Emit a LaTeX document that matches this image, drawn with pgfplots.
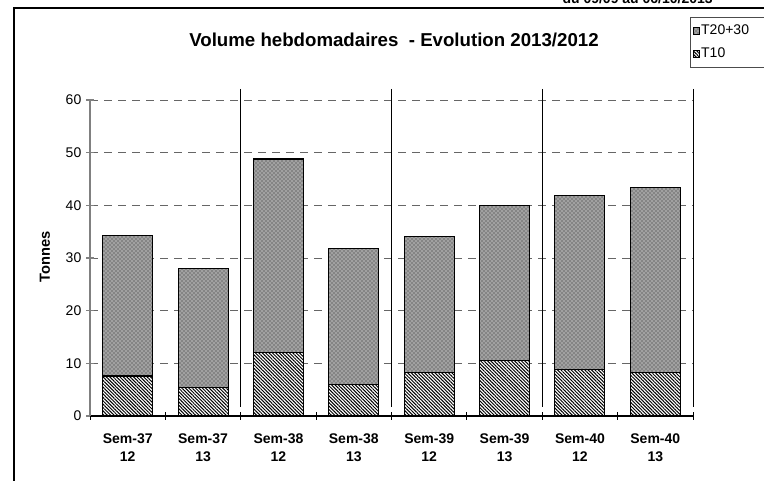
\documentclass[border=0pt]{standalone}
\usepackage{fontspec}
\setmainfont{Liberation Sans}
\usepackage{pgfplots}
\pgfplotsset{compat=1.18}
\usetikzlibrary{patterns,patterns.meta}
\begin{document}
\begin{tikzpicture}[x=0.75pt,y=0.75pt]
\useasboundingbox (0,0) rectangle (764,481);
\clip (0,0) rectangle (764,481);
\draw[line width=1.1pt] (14,-5) -- (14,473) -- (790,473);
\node[anchor=base east, font=\bfseries\fontsize{10.5}{12}\selectfont, inner sep=0pt] at (713,477) {du 09/09 au 06/10/2013};
\node[font=\bfseries\fontsize{14}{16}\selectfont] at (394,441) {Volume hebdomadaires\ \ - Evolution 2013/2012};
\node[rotate=90, font=\bfseries\fontsize{11}{13}\selectfont] at (45,224) {Tonnes};
\begin{axis}[
  at={(67.5pt,48.75pt)}, anchor=south west, scale only axis,
  width=452.25pt, height=237pt,
  xmin=0, xmax=8, ymin=0, ymax=60,
  clip=false,
  ybar stacked, bar width=37.5pt,
  axis x line=bottom, axis y line=left,
  axis line style={-},
  x axis line style={black, line width=0.8pt},
  y axis line style={black!50, line width=1.3pt},
  xtick={0.5,1.5,...,7.5},
  xticklabels={{Sem-37\\12},{Sem-37\\13},{Sem-38\\12},{Sem-38\\13},{Sem-39\\12},{Sem-39\\13},{Sem-40\\12},{Sem-40\\13}},
  xticklabel style={align=center, yshift=-6.5pt, font=\bfseries\fontsize{10.5}{13.5}\selectfont},
  major x tick style={draw=none},
  minor xtick={0,1,...,8},
  minor x tick style={black, line width=0.6pt},
  ytick={0,10,...,60},
  y tick style={black!50, line width=0.8pt},
  tick align=center,
  major tick length=6pt, minor tick length=6pt,
  ymajorgrids,
  grid style={black!60, dash pattern=on 6pt off 4.5pt, line width=0.6pt},
  yticklabel style={font=\fontsize{10.5}{12}\selectfont},
  /pgf/number format/assume math mode=true,
  reverse legend,
  legend cell align=left,
  legend image code/.code={\draw[#1, line width=0.3pt] (0pt,-2.8pt) rectangle (4.8pt,2.8pt);},
  legend style={at={(axis description cs:0.995,1.262)}, anchor=north west,
    draw=black!70, line width=0.6pt, fill=white,
    font=\fontsize{10.5}{12}\selectfont,
    inner xsep=2pt, inner ysep=3.5pt, row sep=4.5pt,
    nodes={inner xsep=1pt}},
]
\addplot[draw=black, line width=0.8pt, fill=white, postaction={pattern={Lines[angle=-45, distance=1.8pt, line width=0.75pt]}}]
  coordinates {(0.5,7.6) (1.5,5.45) (2.5,12.1) (3.5,5.9) (4.5,8.3) (5.5,10.5) (6.5,8.9) (7.5,8.25)};
\addlegendentry{T10}
\addplot[draw=black, line width=0.8pt, fill=black!48, postaction={pattern=crosshatch dots, pattern color=white}]
  coordinates {(0.5,26.7) (1.5,22.55) (2.5,36.7) (3.5,25.95) (4.5,25.8) (5.5,29.5) (6.5,33.0) (7.5,35.2)};
\addlegendentry{T20+30\hspace*{16pt}}
\draw[black, line width=0.7pt] (axis cs:2,62.1) -- (axis cs:2,1.7);
\draw[black, line width=0.7pt] (axis cs:4,62.1) -- (axis cs:4,1.7);
\draw[black, line width=0.7pt] (axis cs:6,62.1) -- (axis cs:6,1.7);
\draw[black, line width=0.7pt] (axis cs:8,62.1) -- (axis cs:8,1.7);
\end{axis}
\end{tikzpicture}
\end{document}
